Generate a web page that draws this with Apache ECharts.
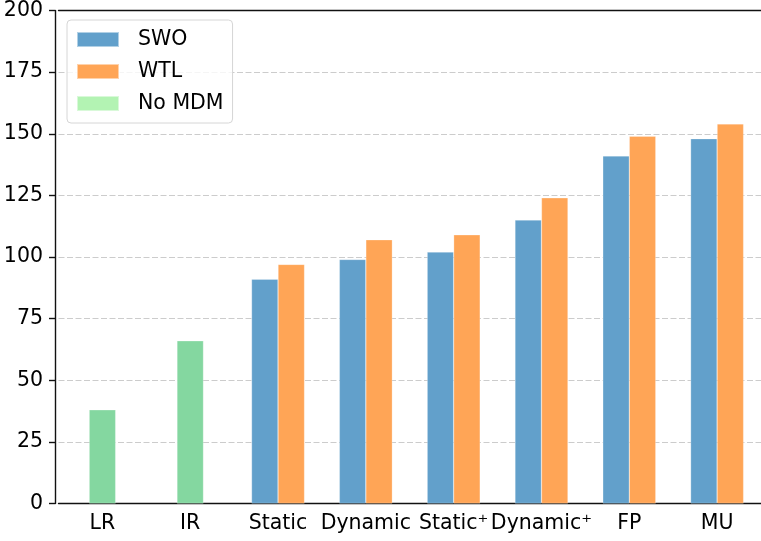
<!DOCTYPE html>
<html>
<head>
<meta charset="utf-8">
<script src="https://cdn.jsdelivr.net/npm/echarts@6/dist/echarts.min.js"></script>
<style>html,body{margin:0;padding:0;background:#fff}#c{width:761px;height:541px}</style>
</head>
<body>
<div id="c"></div>
<script>
const categories = ['LR', 'IR', 'Static', 'Dynamic', 'Static\u207A', 'Dynamic\u207A', 'FP', 'MU'];
const swo   = ['-', '-', 91, 99, 102, 115, 141, 148];
const wtl   = ['-', '-', 97, 107, 109, 124, 149, 154];
const noMdm = [38, 66, '-', '-', '-', '-', '-', '-'];
const yTicks = [0, 25, 50, 75, 100, 125, 150, 175, 200];

const FONT = 'DejaVu Sans';
const FS = 20.5;
const chart = echarts.init(document.getElementById('c'), null, {renderer: 'canvas'});
chart.setOption({
  animation: false,
  backgroundColor: '#fff',
  grid: {left: 58.5, top: 10, width: 707.4, height: 493.5},
  legend: {
    orient: 'vertical', left: 67, top: 20,
    padding: [9, 9, 9, 9],
    itemWidth: 42, itemHeight: 15, itemGap: 11,
    icon: 'rect',
    backgroundColor: 'rgba(255,255,255,0.8)',
    borderColor: '#d6d6d6', borderWidth: 1, borderRadius: 4,
    textStyle: {fontFamily: FONT, fontSize: FS, color: '#000', padding: [0, 0, 0, 14]},
    data: [
      {name: 'SWO', itemStyle: {color: '#62a0cb'}},
      {name: 'WTL', itemStyle: {color: '#ffa556'}},
      {name: 'No MDM', itemStyle: {color: '#b3f3b3'}}
    ]
  },
  xAxis: [
    {
      type: 'category', data: categories, position: 'bottom',
      axisLine: {lineStyle: {color: '#111', width: 1.4}},
      axisTick: {alignWithLabel: true, length: 6, lineStyle: {color: '#111', width: 1.4}},
      axisLabel: {fontFamily: FONT, fontSize: FS, color: '#000', margin: 10, interval: 0},
      splitLine: {show: false}
    },
    {
      type: 'category', data: categories, position: 'top',
      axisLine: {lineStyle: {color: '#111', width: 1.4}},
      axisTick: {show: false}, axisLabel: {show: false}, splitLine: {show: false}
    }
  ],
  yAxis: {
    type: 'value', min: 0, max: 200, interval: 25, offset: 3.5,
    axisLine: {show: true, lineStyle: {color: '#111', width: 1.4}},
    axisTick: {show: true, length: 6, lineStyle: {color: '#111', width: 1.4}},
    axisLabel: {fontFamily: FONT, fontSize: FS, color: '#000', margin: 12,
      formatter: v => yTicks.includes(v) ? String(v) : ''},
    splitLine: {show: true, lineStyle: {color: '#cccccc', type: [6, 2.5], width: 1}}
  },
  series: [
    {name: 'SWO', type: 'bar', xAxisIndex: 0, data: swo, barWidth: 26.5, barGap: '0%',
     itemStyle: {color: '#62a0cb', borderColor: 'rgba(255,255,255,0.5)', borderWidth: 0.5}},
    {name: 'WTL', type: 'bar', xAxisIndex: 0, data: wtl, barWidth: 26.5, barGap: '0%',
     itemStyle: {color: '#ffa556', borderColor: 'rgba(255,255,255,0.5)', borderWidth: 0.5}},
    {name: 'No MDM', type: 'bar', xAxisIndex: 1, data: noMdm, barWidth: 26.5,
     itemStyle: {color: '#84d7a0', borderColor: 'rgba(255,255,255,0.5)', borderWidth: 0.5}}
  ]
});
</script>
</body>
</html>
